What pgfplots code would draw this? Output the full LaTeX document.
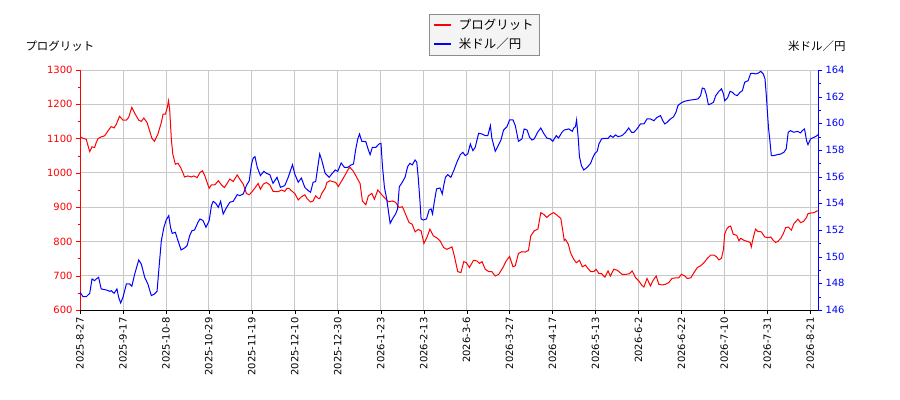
\documentclass[border=0pt]{standalone}
\usepackage{fontspec}
\setmainfont{DejaVu Sans}
\newfontfamily\jp{Noto Sans CJK JP}
\usepackage{pgfplots}
\pgfplotsset{compat=1.18}
\definecolor{gridgray}{HTML}{C8C8C8}
\definecolor{legfill}{HTML}{F4F4F4}
\definecolor{legedge}{HTML}{8C8C8C}

\pgfplotsset{
  base/.style={
    at={(80bp,90bp)}, anchor=south west,
    scale only axis, width=738bp, height=240bp,
    xmin=0, xmax=257.7,
    tick align=outside,
    major tick length=4bp, minor tick length=2.5bp,
    tick label style={font=\fontsize{10}{12}\selectfont},
    /pgf/number format/assume math mode=true,
    /pgf/number format/1000 sep={},
    axis line style={-},
  }
}

\begin{document}
\begin{tikzpicture}
\useasboundingbox (0,0) rectangle (900bp,400bp);

% left axis: Progrit share price
\begin{axis}[base,
  axis x line*=bottom, axis y line*=left,
  ymin=600, ymax=1300, ytick={600,700,...,1300}, minor y tick num=1,
  xtick={0,15,...,255},
  xticklabels={2025-8-27,2025-9-17,2025-10-8,2025-10-29,2025-11-19,2025-12-10,2025-12-30,2026-1-23,2026-2-13,2026-3-6,2026-3-27,2026-4-17,2026-5-13,2026-6-2,2026-6-22,2026-7-10,2026-7-31,2026-8-21},
  xticklabel style={rotate=90, anchor=east},
  grid=major, grid style={gridgray, line width=0.8bp},
  y axis line style={red}, ytick style={red}, yticklabel style={red},
  xtick style={black},
  ylabel={\jp プログリット},
  every axis y label/.style={at={(axis description cs:-0.0786,1.083)}, anchor=base west, font=\fontsize{11.5}{13}\selectfont},
]
\addplot[red, line width=1bp] coordinates {
(0,1105) (1.05,1101) (2.2,1098) (2.8,1079) (3.4,1062) (4.2,1076) (5.1,1074) (5.7,1089) (6.3,1100) (7.4,1105)
(8.6,1108) (9.8,1123) (10.9,1135) (11.9,1131) (12.7,1142) (13.8,1165) (15.0,1154) (16.2,1154) (17.0,1162) (18.1,1191)
(19.3,1171) (20.5,1154) (21.4,1150) (22.3,1160) (23.4,1147) (24.3,1123) (25.1,1101) (26.0,1092) (27.2,1113) (28.4,1147)
(29.0,1171) (29.8,1171) (30.5,1191) (30.9,1210) (31.3,1186) (31.9,1098) (32.4,1055) (33.3,1025) (34.2,1028) (35.1,1016)
(35.9,1001) (36.5,988) (37.7,991) (38.8,988) (39.8,991) (40.9,986) (41.9,1001) (42.8,1006) (43.6,991) (45.1,955)
(45.9,965) (47.1,965) (48.3,977) (49.4,965) (50.4,957) (51.2,967) (52.3,982) (53.5,975) (54.9,994) (56.0,979)
(57.0,967) (58.1,940) (59.1,936) (60.2,946) (61.0,955) (62.2,969) (63.0,952) (64.0,967) (65.1,972) (66.3,965)
(67.4,946) (69.2,945) (70.4,950) (71.5,946) (72.3,955) (73.0,955) (73.8,948) (75.0,940) (76.2,921) (77.3,930)
(78.5,936) (79.3,925) (80.5,915) (81.4,918) (82.3,933) (83.1,926) (83.7,925) (84.4,940) (85.6,955) (86.2,972)
(87.3,977) (88.5,974) (89.3,972) (90.2,960) (91.4,977) (92.6,994) (93.7,1011) (94.3,1016) (95.5,1004) (96.6,987)
(97.8,969) (98.6,918) (99.8,907) (100.7,933) (101.9,940) (102.8,923) (104.0,950) (105.4,936) (106.5,926) (107.7,916)
(109.1,918) (110.2,914) (111.4,899) (112.6,901) (113.7,879) (114.9,855) (116.0,850) (117.0,828) (118.1,835) (119.1,831)
(120.1,794) (121.1,811) (122.2,836) (123.4,816) (124.5,811) (125.7,802) (127.0,782) (128.1,777) (129.9,784) (130.7,758)
(131.9,712) (133.0,709) (134.0,741) (134.9,738) (136.0,724) (137.4,745) (138.6,743) (139.5,736) (140.4,741) (141.5,719)
(142.7,712) (143.8,712) (145.0,699) (146.2,704) (147.7,724) (148.8,743) (150.0,756) (151.2,726) (152.0,729) (153.1,765)
(154.3,770) (155.5,769) (156.6,774) (157.4,816) (158.6,831) (159.9,836) (160.9,884) (161.9,879) (163.0,870) (164.2,879)
(165.4,884) (166.5,877) (167.9,867) (169.1,803) (169.5,806) (170.5,792) (171.3,767) (172.4,748) (173.3,738) (174.4,745)
(175.4,726) (176.5,731) (177.1,724) (178.3,712) (179.4,712) (180.2,719) (181.2,706) (182.1,706) (183.3,696) (184.4,714)
(185.2,699) (186.4,719) (187.6,716) (189.3,704) (190.7,704) (191.9,706) (192.8,714) (194.0,694) (195.1,685) (196.1,673)
(196.9,667) (198.0,692) (199.2,670) (200.0,685) (201.2,699) (202.1,675) (203.3,673) (204.4,675) (205.6,680) (206.7,692)
(208.1,694) (209.1,694) (210.0,704) (211.2,699) (212.1,692) (213.3,694) (214.4,709) (215.6,724) (216.7,729) (217.9,738)
(219.1,751) (220.2,760) (221.4,760) (222.3,755) (223.1,746) (224.0,751) (224.7,777) (225.1,821) (225.8,836) (226.6,843)
(227.2,845) (228.1,821) (229.3,818) (230.1,802) (230.7,809) (231.9,803) (233.0,800) (234.0,797) (234.4,784) (235.1,811)
(235.9,836) (236.7,829) (237.9,828) (239.1,813) (240.2,811) (241.2,813) (242.1,803) (242.9,797) (243.7,800) (244.7,809)
(245.6,823) (246.4,840) (247.3,842) (248.4,833) (249.3,852) (250.7,865) (251.6,855) (252.6,858) (253.7,870) (254.2,881)
(255.4,883) (256.3,884) (257.4,889) (257.7,889)
};
\end{axis}

% right axis: USD/JPY
\begin{axis}[base,
  axis x line=none, axis y line*=right,
  ymin=146, ymax=164, ytick={146,148,...,164}, minor y tick num=1,
  y axis line style={blue}, ytick style={blue}, yticklabel style={blue},
  ylabel={\jp 米ドル／円},
  every axis y label/.style={at={(axis description cs:1.042,1.083)}, anchor=base east, font=\fontsize{11.5}{13}\selectfont},
  legend style={at={(axis description cs:0.548,1.233)}, anchor=north,
    fill=legfill, draw=legedge, font=\fontsize{12.5}{14}\selectfont,
    inner xsep=4bp, inner ysep=3bp, row sep=3bp, column sep=5bp},
  legend cell align=left,
  legend image code/.code={\draw[#1] (0bp,0bp) -- (17bp,0bp);},
]
\addlegendimage{red, line width=1.8bp}
\addlegendentry{\jp プログリット}
\addplot[blue, line width=1bp, forget plot] coordinates {
(0,147.33) (1.05,147.0) (2.2,147.0) (3.4,147.25) (4.2,148.33) (5.1,148.2) (5.7,148.33) (6.5,148.45) (7.4,147.58) (9.2,147.5)
(10.4,147.4) (10.9,147.45) (11.9,147.25) (12.9,147.58) (13.5,146.95) (14.2,146.53) (15.0,146.95) (16.2,147.95) (17.3,147.95) (18.1,147.78)
(19.1,148.7) (20.5,149.75) (21.4,149.45) (22.6,148.45) (23.7,147.95) (24.9,147.08) (26.0,147.2) (26.9,147.4) (27.6,149.2) (28.4,151.2)
(29.3,152.2) (30.1,152.75) (31.0,153.08) (31.6,152.2) (32.2,151.75) (33.3,151.83) (34.2,151.2) (35.3,150.5) (36.5,150.65) (37.4,150.83)
(38.3,151.58) (39.1,151.95) (40.0,152.0) (41.2,152.58) (41.9,152.83) (43.0,152.7) (44.0,152.2) (45.1,152.7) (45.9,153.83) (46.5,154.15)
(47.4,154.0) (48.3,153.7) (49.1,154.15) (50.0,153.2) (50.9,153.58) (52.3,154.08) (53.5,154.15) (54.9,154.65) (55.8,154.58) (57.0,154.7)
(58.1,155.33) (59.1,155.7) (59.9,156.95) (60.5,157.4) (61.1,157.5) (61.9,156.7) (63.0,156.08) (64.2,156.4) (65.1,156.25) (66.3,156.15)
(67.4,155.5) (68.8,155.95) (70.0,155.2) (71.5,155.33) (72.7,155.95) (74.2,156.9) (75.0,156.2) (76.2,155.58) (77.3,155.9) (78.5,155.2)
(79.7,154.95) (80.5,154.83) (81.4,155.58) (82.3,155.63) (83.1,156.83) (83.7,157.7) (84.4,157.25) (85.6,156.25) (87.0,155.95) (87.9,156.2)
(89.1,156.5) (90.0,156.4) (91.2,157.03) (92.3,156.7) (93.5,156.7) (94.7,156.88) (95.5,156.95) (96.3,158.08) (97.0,158.83) (97.6,159.2)
(98.4,158.65) (99.8,158.63) (100.7,158.0) (101.3,157.65) (102.1,158.2) (103.3,158.2) (104.4,158.45) (105.1,158.5) (105.6,156.83) (106.3,155.2)
(107.1,154.33) (107.7,153.4) (108.3,152.5) (109.1,152.83) (110.2,153.2) (110.9,153.58) (111.5,155.25) (112.3,155.5) (113.5,155.95) (114.4,156.75)
(115.2,157.0) (116.0,156.88) (117.0,157.25) (117.6,157.08) (118.1,155.95) (118.7,154.2) (119.1,152.83) (119.9,152.75) (121.0,152.83) (121.9,153.5)
(122.6,153.58) (123.1,153.2) (123.7,154.08) (124.5,155.08) (125.7,155.15) (126.5,154.7) (127.0,155.33) (127.6,155.95) (128.4,156.15) (129.5,155.95)
(130.5,156.45) (131.6,157.08) (132.8,157.65) (133.7,157.83) (134.5,157.58) (135.4,157.7) (136.3,158.45) (137.2,157.95) (138.0,158.2) (139.2,159.25)
(140.4,159.2) (141.5,159.08) (142.4,159.08) (143.3,159.83) (143.8,158.9) (145.0,157.9) (146.2,158.4) (147.0,158.75) (147.9,159.5) (149.1,159.75)
(150.0,160.25) (151.2,160.25) (152.0,159.83) (153.1,158.65) (154.3,158.83) (155.1,159.58) (156.1,159.5) (157.0,158.95) (157.8,158.75) (158.6,158.83)
(159.8,159.33) (160.9,159.65) (161.9,159.25) (163.0,158.9) (164.2,158.83) (165.1,158.65) (166.3,159.08) (167.1,158.9) (168.3,159.33) (169.1,159.5)
(170.7,159.58) (171.9,159.4) (172.4,159.65) (173.0,159.75) (173.4,160.25) (174.0,158.83) (174.4,157.5) (175.1,156.83) (175.9,156.5) (177.1,156.7)
(178.3,157.0) (179.1,157.45) (179.8,157.75) (180.6,157.9) (181.2,158.45) (182.1,158.83) (183.3,158.88) (184.4,158.88) (185.2,159.08) (186.1,158.95)
(187.0,159.13) (187.9,159.0) (189.3,159.08) (190.5,159.33) (191.6,159.65) (192.6,159.33) (193.4,159.33) (194.5,159.58) (195.7,159.95) (196.9,159.95)
(198.0,160.33) (199.2,160.33) (200.4,160.2) (201.5,160.45) (202.7,160.58) (203.5,160.2) (204.2,159.95) (205.0,160.08) (206.2,160.33) (207.3,160.5)
(208.1,160.83) (208.8,161.33) (209.7,161.5) (210.8,161.63) (212.0,161.7) (213.3,161.75) (214.4,161.78) (215.8,161.83) (216.7,162.08) (217.3,162.65)
(218.1,162.58) (218.8,162.08) (219.4,161.4) (220.2,161.45) (221.2,161.58) (222.0,162.08) (223.1,162.4) (224.0,162.58) (224.7,162.2) (225.1,161.7)
(226.1,161.9) (227.0,162.4) (227.8,162.33) (228.6,162.15) (229.5,162.08) (230.5,162.33) (231.3,162.45) (232.1,163.08) (233.3,163.2) (234.2,163.75)
(235.1,163.75) (235.9,163.7) (236.7,163.75) (237.7,163.9) (238.6,163.7) (239.2,163.33) (239.7,161.95) (240.0,160.95) (240.4,159.7) (240.9,158.7)
(241.4,157.58) (242.3,157.58) (243.5,157.65) (244.7,157.7) (245.8,157.83) (246.6,158.08) (247.3,159.33) (248.1,159.45) (249.3,159.33) (250.5,159.4)
(251.6,159.28) (252.2,159.45) (253.0,159.58) (253.7,158.7) (254.2,158.4) (255.1,158.83) (256.3,158.95) (257.4,159.08) (257.7,159.15)
};
\addlegendimage{blue, line width=1.8bp}
\addlegendentry{\jp 米ドル／円}
\end{axis}
\end{tikzpicture}
\end{document}
